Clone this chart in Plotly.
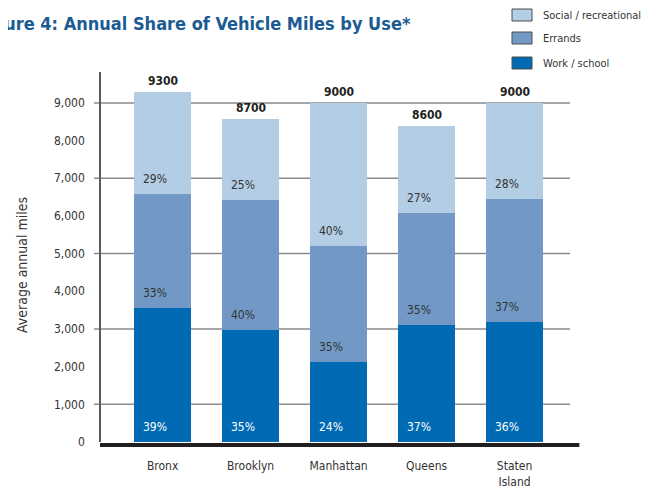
import plotly.graph_objects as go

# Values (miles per year, per use)
boroughs = ["Bronx", "Brooklyn", "Manhattan", "Queens", "Staten<br>Island"]
work_school = [3550, 2970, 2120, 3100, 3180]
errands = [3030, 3450, 3080, 2980, 3270]
social = [2710, 2150, 3800, 2310, 2550]

total_labels = ["9300", "8700", "9000", "8600", "9000"]
work_pct = ["39%", "35%", "24%", "37%", "36%"]
errands_pct = ["33%", "40%", "35%", "35%", "37%"]
social_pct = ["29%", "25%", "40%", "27%", "28%"]

y_ticks = [0, 1000, 2000, 3000, 4000, 5000, 6000, 7000, 8000, 9000]
grid_vals = [1000, 3000, 5000, 7000, 9000]
Y_MAX = 9820

C_WORK = "#006ab4"
C_ERR = "#7299c6"
C_SOC = "#b3cde4"
FONT = "DejaVu Sans Condensed, Liberation Sans Narrow, sans-serif"
TXT = "#333333"

# page body has an 8px margin, so the figure sits at (8, 8) in the window
OFF = 8
WIN_W, WIN_H = 655, 489
W, H = WIN_W - OFF, WIN_H - OFF
# plot area in window pixels
L, R, T, B = 101, 570, 72, 442


def px2x(px):
    return (px - L) / (R - L)


def py2y(py):
    return (B - py) / (B - T)


fig = go.Figure()
series = [
    ("Work / school", work_school, C_WORK),
    ("Errands", errands, C_ERR),
    ("Social / recreational", social, C_SOC),
]
for name, vals, col in series:
    fig.add_trace(go.Bar(
        x=boroughs, y=vals, name=name,
        marker=dict(color=col, line=dict(width=0)),
        width=0.65, showlegend=False, hoverinfo="y+name",
    ))

# percentage labels near the bottom of each segment, slightly left of centre
base = [0] * len(boroughs)
for vals, labels, col in [(work_school, work_pct, "white"),
                          (errands, errands_pct, TXT),
                          (social, social_pct, TXT)]:
    for i, b in enumerate(boroughs):
        fig.add_annotation(
            x=b, y=base[i], text=labels[i], showarrow=False,
            xanchor="center", yanchor="middle", xshift=-8, yshift=15,
            font=dict(family=FONT, size=12, color=col),
        )
        base[i] += vals[i]

# totals on top of the bars
for i, b in enumerate(boroughs):
    fig.add_annotation(
        x=b, y=base[i], text="<b>" + total_labels[i] + "</b>", showarrow=False,
        xanchor="center", yanchor="bottom", yshift=2,
        font=dict(family=FONT, size=12, color="#231f20"),
    )

# gridlines (every other thousand) with tick stubs left of the axis;
# paper refs so the stubs outside the plot area are not clipped
for g in grid_vals:
    fig.add_shape(type="line", xref="paper", yref="paper",
                  x0=px2x(94), x1=1, y0=g / Y_MAX, y1=g / Y_MAX, layer="below",
                  line=dict(color="#8a8a8a", width=1.5))

# heavy baseline under the bars
fig.add_shape(type="rect", xref="paper", yref="paper", ysizemode="pixel",
              yanchor=0, x0=px2x(100), x1=1.02, y0=-5, y1=-1,
              fillcolor="#231f20", line=dict(width=0))

# legend drawn by hand (boxes with outline)
for name, col, cy in [("Social / recreational", C_SOC, 15),
                      ("Errands", C_ERR, 38),
                      ("Work / school", C_WORK, 63)]:
    fig.add_shape(type="rect", xref="paper", yref="paper",
                  x0=px2x(512), x1=px2x(532), y0=py2y(cy + 6), y1=py2y(cy - 6),
                  fillcolor=col, line=dict(color="#4d4d4d", width=1))
    fig.add_annotation(xref="paper", yref="paper", x=px2x(541), y=py2y(cy),
                       text=name, showarrow=False, xanchor="left", yanchor="middle",
                       font=dict(family=FONT, size=11, color=TXT))

# title, cut off on the left like the source
fig.add_annotation(xref="paper", yref="paper", x=px2x(413), y=py2y(23),
                   text="<b>Figure 4: Annual Share of Vehicle Miles by Use*</b>",
                   showarrow=False, xanchor="right", yanchor="middle",
                   font=dict(family=FONT, size=18, color="#1b5b93"))

# y-axis title
fig.add_annotation(xref="paper", yref="paper", x=px2x(22), y=py2y(265),
                   text="Average annual miles", textangle=-90, showarrow=False,
                   xanchor="center", yanchor="middle",
                   font=dict(family=FONT, size=14, color=TXT))

fig.update_layout(
    width=W, height=H,
    margin=dict(l=L - OFF, r=W - (R - OFF), t=T - OFF, b=H - (B - OFF)),
    barmode="stack", bargap=0.35,
    plot_bgcolor="white", paper_bgcolor="white",
    font=dict(family=FONT, size=12, color=TXT),
    showlegend=False,
)
fig.update_xaxes(
    range=[-0.70, 4.63], showgrid=False, zeroline=False, showline=False,
    ticks="", ticklabelstandoff=15, tickfont=dict(size=12, color=TXT),
    automargin=False,
)
fig.update_yaxes(
    range=[0, Y_MAX], tickvals=y_ticks, ticktext=[f"{v:,}" for v in y_ticks],
    showgrid=False, zeroline=False, showline=True, linecolor="#5a5a5a",
    linewidth=1.5, ticks="", ticklabelstandoff=12,
    tickfont=dict(size=12, color=TXT), automargin=False,
)

fig.write_html("out.html")
